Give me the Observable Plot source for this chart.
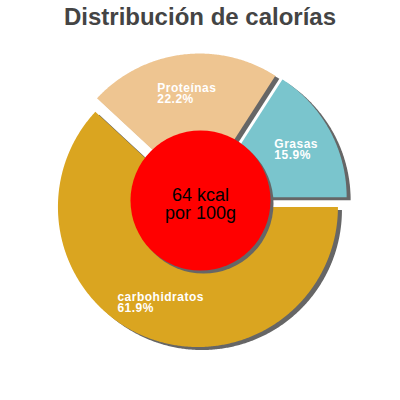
<!DOCTYPE html>
<html>
<head>
<meta charset="utf-8">
<script src="https://cdn.jsdelivr.net/npm/d3@7"></script>
<script src="https://cdn.jsdelivr.net/npm/@observablehq/plot@0.6"></script>
<style>
  html, body { margin: 0; padding: 0; background: #fff; }
  #title {
    height: 40px; line-height: 34px; text-align: center;
    font-family: "Liberation Sans", Arial, sans-serif; font-weight: bold; font-size: 24px;
    color: #444;
  }
  #chart svg { display: block; }
  #chart g[fill="white"] text { letter-spacing: 0.5px; }
</style>
</head>
<body>
<div id="title">Distribución de calorías</div>
<div id="chart"></div>
<script>
// ---- data ----
const categories = ["carbohidratos", "Proteínas", "Grasas"];
const values = [61.9, 22.2, 15.9];
const colors = ["#DAA520", "#EEC591", "#7AC5CD"];
const energyLines = ["64 kcal", "por 100g"];

// ---- geometry (in pixel-sized data units, y up, pie centre at 0,0) ----
const R = 140, explode = 7, labelR = 102, holeR = 70;
const shadowColor = "#666";
const FONT = "Liberation Sans, Arial, sans-serif";
const total = d3.sum(values);

let acc = 0;
const slices = categories.map((name, i) => {
  const a0 = acc / total * 2 * Math.PI; acc += values[i];
  const a1 = acc / total * 2 * Math.PI;
  const mid = (a0 + a1) / 2;
  return {name, value: values[i], color: colors[i], a0, a1, mid,
          cx: explode * Math.cos(mid), cy: -explode * Math.sin(mid)};
});

const outline = slices.flatMap(s => {
  const pts = [{name: s.name, color: s.color, x: s.cx, y: s.cy}];
  const n = Math.ceil((s.a1 - s.a0) / (Math.PI / 360));
  for (let k = 0; k <= n; k++) {
    const t = s.a0 + (s.a1 - s.a0) * k / n;
    pts.push({name: s.name, color: s.color, x: s.cx + R * Math.cos(t), y: s.cy - R * Math.sin(t)});
  }
  pts.push({name: s.name, color: s.color, x: s.cx, y: s.cy});
  return pts;
});

const ctx = document.createElement("canvas").getContext("2d");
ctx.font = "bold 12px 'Liberation Sans'";
const tw = str => ctx.measureText(str).width + 0.5 * str.length;
const labels = slices.map(s => {
  const pct = s.value.toFixed(1) + "%";
  const w = Math.max(tw(s.name), tw(pct));
  const ax = s.cx + labelR * Math.cos(s.mid);
  const ay = s.cy - labelR * Math.sin(s.mid);
  return {name: s.name, pct, x: ax - w / 2, y: ay + 4.5};
});

const chart = Plot.plot({
  width: 400, height: 360, margin: 0,
  x: {domain: [-200, 200], axis: null},
  y: {domain: [-200, 160], axis: null},
  color: {type: "identity"},
  style: {background: "#fff"},
  marks: [
    Plot.line(outline, {x: "x", y: "y", z: "name", fill: shadowColor, stroke: "none", dx: 4, dy: 3}),
    Plot.line(outline, {x: "x", y: "y", z: "name", fill: "color", stroke: "none"}),
    Plot.dot([{x: 0, y: 0}], {x: "x", y: "y", r: holeR, fill: shadowColor, stroke: "none", dx: 3, dy: 3}),
    Plot.dot([{x: 0, y: 0}], {x: "x", y: "y", r: holeR, fill: "#FF0000", stroke: "none"}),
    Plot.text(labels, {x: "x", y: "y", text: "name", textAnchor: "start", fill: "white",
      fontSize: 12, fontWeight: "bold", fontFamily: FONT}),
    Plot.text(labels, {x: "x", y: d => d.y - 11, text: "pct", textAnchor: "start", fill: "white",
      fontSize: 12, fontWeight: "bold", fontFamily: FONT}),
    Plot.text([{x: 0, y: 0, t: energyLines.join("\n")}], {x: "x", y: "y", text: "t", fill: "black",
      fontSize: 18, fontFamily: FONT, lineHeight: 0.98, dy: 4})
  ]
});
document.getElementById("chart").appendChild(chart);
</script>
</body>
</html>
